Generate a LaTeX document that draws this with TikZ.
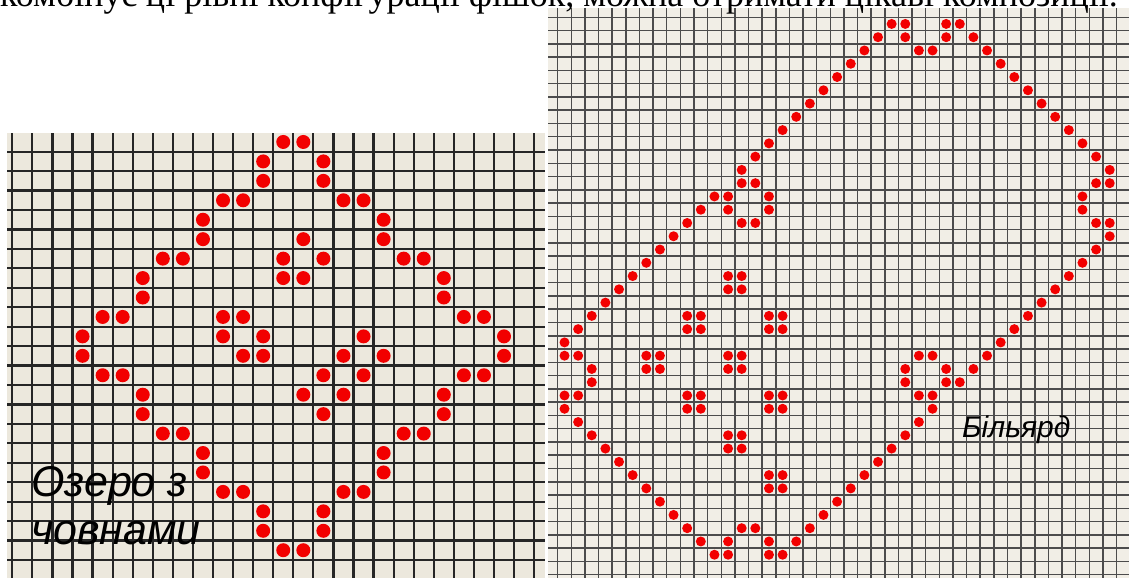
\documentclass[tikz,border=0pt]{standalone}
\usepackage{fontspec}
\setmainfont{Liberation Serif}
\newfontfamily\labelfont{Liberation Sans}

\definecolor{paper}{RGB}{236,232,221}
\definecolor{paperlight}{RGB}{241,238,230}
\definecolor{chip}{RGB}{242,0,0}

\begin{document}
\begin{tikzpicture}[x=1pt, y=-1pt,
    gridline/.style={line width=2.2pt, black!85},
    finegrid/.style={line width=1.5pt, black!70},
    chipdot/.style={fill=chip},
    boardlabel/.style={anchor=base west, inner sep=0pt, font=\labelfont\itshape}]
    \useasboundingbox (0,0) rectangle (1129,578);

    % Left board: lake with boats
    \fill[paper] (7,133) rectangle (545,578);
    \foreach \k in {0,...,26}
        \draw[gridline] ({12.3+20.07*\k},133) -- ({12.3+20.07*\k},578);
    \foreach \j in {0,...,21}
        \draw[gridline] (7,{151.7+19.44*\j}) -- (545,{151.7+19.44*\j});

    \begin{scope}[shift={(12.3,151.7)}, x=20.07pt, y=-19.44pt]
        % Lake shore (one quarter, mirrored)
        \foreach \c/\r in {13/-1,12/0,12/1,10/2,11/2,9/3,9/4,7/5,8/5,6/6,6/7,4/8,5/8,3/9} {
            \fill[chipdot] ({\c+0.5},{\r+0.5}) circle[radius=7pt];
            \fill[chipdot] ({27.5-\c},{\r+0.5}) circle[radius=7pt];
            \fill[chipdot] ({\c+0.5},{19.5-(\r)}) circle[radius=7pt];
            \fill[chipdot] ({27.5-\c},{19.5-(\r)}) circle[radius=7pt];
        }
        % Boats
        \foreach \c/\r in {14/4,13/5,15/5,13/6,14/6,
                           10/8,11/8,10/9,12/9,11/10,12/10,
                           17/9,16/10,18/10,15/11,17/11,14/12,16/12,15/13}
            \fill[chipdot] ({\c+0.5},{\r+0.5}) circle[radius=7pt];
    \end{scope}

    % Right board: billiard table
    \fill[paperlight] (548,8) rectangle (1129,578);
    \foreach \k in {0,...,41}
        \draw[finegrid] ({557.7+13.63*\k},8) -- ({557.7+13.63*\k},578);
    \foreach \j in {0,...,42}
        \draw[finegrid] (548,{17.3+13.27*\j}) -- (1129,{17.3+13.27*\j});

    \begin{scope}[shift={(557.7,17.3)}, x=13.63pt, y=-13.27pt]
        % Cushions along the diagonals
        \foreach \c in {0,...,11,13,14,...,24}
            \fill[chipdot] ({\c+0.5},{24.5-\c}) circle[radius=5pt];
        \foreach \c in {29,...,40}
            \fill[chipdot] ({\c+0.5},{\c-28.5}) circle[radius=5pt];
        \foreach \c in {16,...,27,29,30,...,40}
            \fill[chipdot] ({\c+0.5},{56.5-\c}) circle[radius=5pt];
        \foreach \c in {0,...,11}
            \fill[chipdot] ({\c+0.5},{\c+29.5}) circle[radius=5pt];
        % Pockets and bumps
        \foreach \c/\r in {25/0,25/1,26/2,27/2,28/1,28/0,
                           15/40,15/39,14/38,13/38,12/39,12/40,
                           39/12,40/12,38/13,38/14,39/15,40/15,
                           1/28,0/28,2/27,2/26,1/25,0/25,
                           12/13,12/14,13/12,14/12,15/13,15/14,13/15,14/15,
                           28/27,28/26,27/28,26/28,25/27,25/26,27/25,26/25}
            \fill[chipdot] ({\c+0.5},{\r+0.5}) circle[radius=5pt];
        % Balls (2x2 blocks)
        \foreach \c/\r in {12/19,9/22,15/22,6/25,12/25,9/28,15/28,12/31,15/34}
            \foreach \dc/\dr in {0/0,1/0,0/1,1/1}
                \fill[chipdot] ({\c+\dc+0.5},{\r+\dr+0.5}) circle[radius=5pt];
    \end{scope}

    % Labels
    \node[boardlabel, font=\labelfont\itshape\fontsize{43}{48}\selectfont] (lakename) at (31,496) {Озеро з};
    \node[boardlabel, font=\labelfont\itshape\fontsize{43}{48}\selectfont] (lakeboats) at (31,544) {човнами};
    \node[boardlabel, font=\labelfont\itshape\fontsize{30}{34}\selectfont] (billiard) at (962,437) {Більярд};
    \node[anchor=base west, inner sep=0pt, font=\fontsize{36}{40}\selectfont] (topline) at (0,7)
        {комбінує ці рівні конфігурації фішок, можна отримати цікаві композиції.};
\end{tikzpicture}
\end{document}
